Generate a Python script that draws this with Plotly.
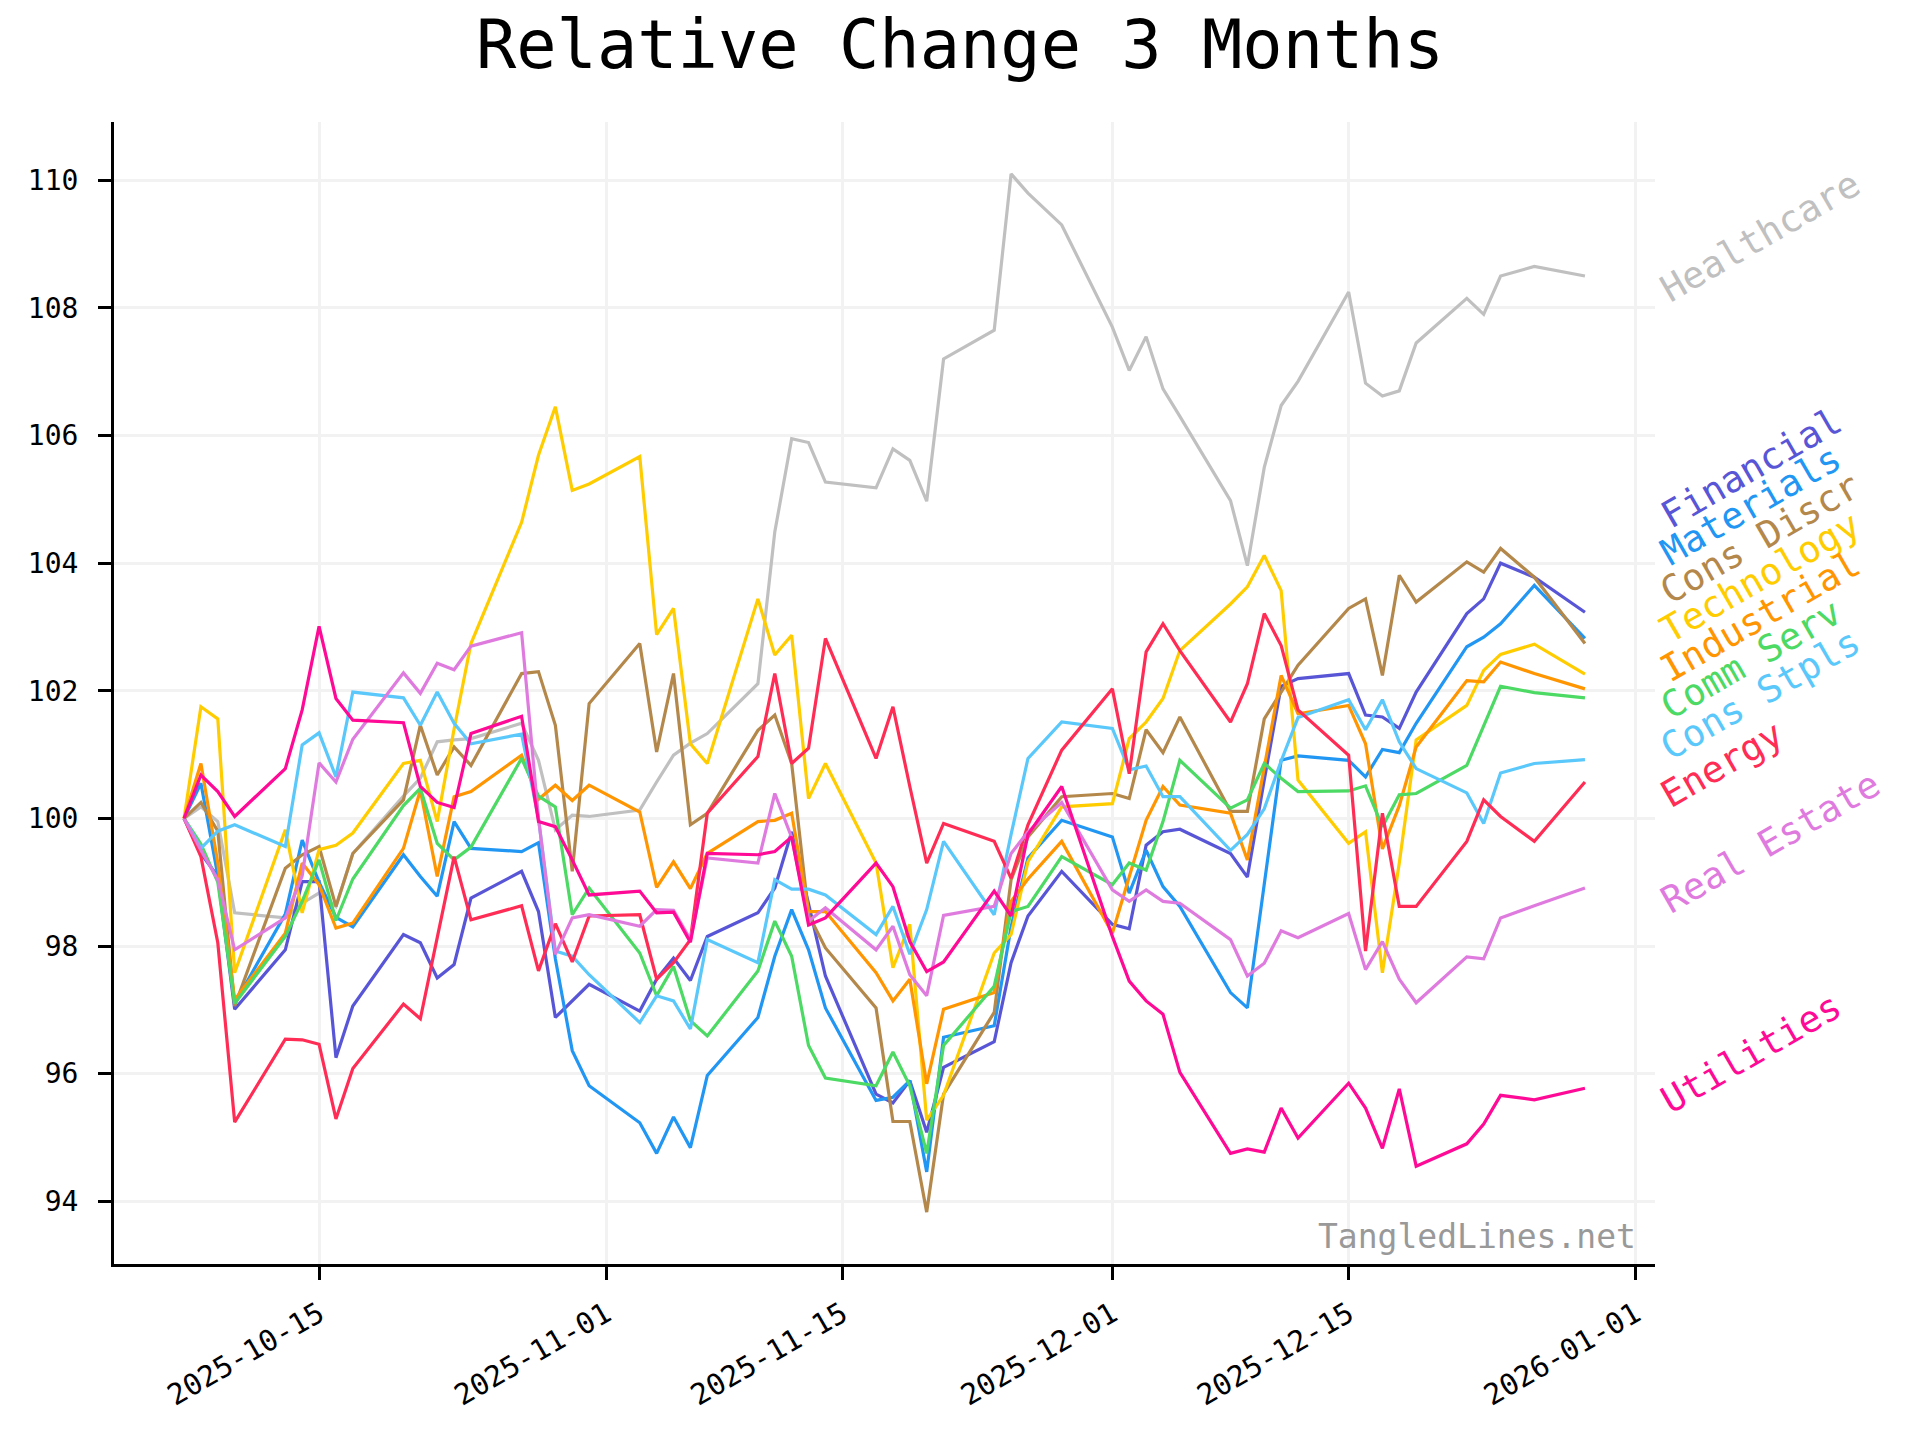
import math
import pandas as pd
import plotly.graph_objects as go

dates = ["2025-10-07","2025-10-08","2025-10-09","2025-10-10","2025-10-13","2025-10-14","2025-10-15",
         "2025-10-16","2025-10-17","2025-10-20","2025-10-21","2025-10-22","2025-10-23","2025-10-24",
         "2025-10-27","2025-10-28","2025-10-29","2025-10-30","2025-10-31",
         "2025-11-03","2025-11-04","2025-11-05","2025-11-06","2025-11-07","2025-11-10","2025-11-11",
         "2025-11-12","2025-11-13","2025-11-14","2025-11-17","2025-11-18","2025-11-19","2025-11-20",
         "2025-11-21","2025-11-24","2025-11-25","2025-11-26","2025-11-28",
         "2025-12-01","2025-12-02","2025-12-03","2025-12-04","2025-12-05","2025-12-08","2025-12-09",
         "2025-12-10","2025-12-11","2025-12-12","2025-12-15","2025-12-16","2025-12-17","2025-12-18",
         "2025-12-19","2025-12-22","2025-12-23","2025-12-24","2025-12-26","2025-12-29"]

financial = [100, 99.45, 99.09, 97.01, 97.94, 99.01, 99.01, 96.25, 97.06, 98.18, 98.05, 97.5, 97.71, 98.75, 99.17, 98.54, 96.88, 97.14, 97.4,
             96.98, 97.48, 97.81, 97.46, 98.15, 98.52, 98.91, 99.79, 98.66, 97.53, 95.68, 95.54, 95.89, 95.08, 96.1, 96.5, 97.74, 98.47, 99.17,
             98.34, 98.27, 99.58, 99.79, 99.83, 99.45, 99.08, 100.6, 102.07, 102.19, 102.27, 101.62, 101.59, 101.41, 101.98, 103.21, 103.44, 104.0, 103.78, 103.23]
materials = [100, 100.55, 99.1, 97.1, 98.5, 99.66, 99.0, 98.45, 98.3, 99.43, 99.09, 98.78, 99.95, 99.53, 99.48, 99.62, 97.8, 96.36, 95.81,
             95.23, 94.75, 95.32, 94.84, 95.97, 96.88, 97.84, 98.57, 97.94, 97.03, 95.58, 95.63, 95.89, 94.46, 96.57, 96.75, 98.3, 99.38, 99.97,
             99.71, 98.83, 99.5, 98.93, 98.62, 97.27, 97.03, 98.95, 100.91, 100.98, 100.91, 100.65, 101.08, 101.03, 101.49, 102.69, 102.84, 103.05, 103.65, 102.82]
cons_discr = [100, 100.25, 99.8, 97.06, 99.22, 99.43, 99.56, 98.62, 99.45, 100.29, 101.46, 100.68, 101.12, 100.83, 102.27, 102.3, 101.46, 99.17, 101.8,
              102.74, 101.04, 102.27, 99.9, 100.08, 101.38, 101.62, 100.86, 98.49, 97.97, 97.03, 95.25, 95.25, 93.83, 95.68, 96.96, 99.04, 99.71, 100.34,
              100.39, 100.31, 101.39, 101.03, 101.59, 100.11, 100.11, 101.56, 101.98, 102.4, 103.29, 103.44, 102.24, 103.81, 103.39, 104.02, 103.86, 104.23, 103.78, 102.74]
technology = [100, 101.75, 101.56, 97.58, 99.82, 98.52, 99.51, 99.58, 99.77, 100.86, 100.91, 99.95, 101.4, 102.74, 104.64, 105.69, 106.45, 105.14, 105.24,
              105.67, 102.88, 103.29, 101.17, 100.86, 103.44, 102.56, 102.87, 100.31, 100.86, 99.3, 97.66, 98.34, 95.27, 95.66, 97.89, 98.18, 99.32, 100.18,
              100.23, 101.25, 101.51, 101.88, 102.63, 103.36, 103.63, 104.12, 103.57, 100.6, 99.61, 99.79, 97.58, 99.3, 101.23, 101.77, 102.32, 102.57, 102.73, 102.26]
industrial = [100, 100.86, 99.3, 97.16, 98.2, 99.3, 98.96, 98.28, 98.36, 99.53, 100.44, 99.09, 100.34, 100.42, 100.99, 100.3, 100.52, 100.28, 100.52,
              100.1, 98.92, 99.32, 98.9, 99.45, 99.95, 99.97, 100.08, 98.54, 98.54, 97.58, 97.14, 97.48, 95.84, 97.01, 97.27, 98.7, 99.05, 99.64,
              98.2, 99.09, 99.97, 100.5, 100.21, 100.08, 99.35, 100.8, 102.24, 101.64, 101.77, 101.17, 99.52, 100.2, 101.12, 102.16, 102.14, 102.45, 102.27, 102.03]
comm_serv = [100, 99.6, 99.0, 97.1, 98.15, 98.7, 99.35, 98.4, 99.05, 100.2, 100.47, 99.61, 99.35, 99.55, 100.94, 100.35, 100.18, 98.49, 98.91,
             97.89, 97.22, 97.68, 96.83, 96.59, 97.61, 98.39, 97.84, 96.44, 95.93, 95.81, 96.34, 95.81, 94.75, 96.44, 97.37, 98.54, 98.62, 99.4,
             98.96, 99.3, 99.19, 99.95, 100.91, 100.16, 100.29, 100.86, 100.63, 100.42, 100.43, 100.51, 99.87, 100.37, 100.39, 100.83, 101.45, 102.07, 101.97, 101.89]
cons_stpls = [100, 99.53, 99.8, 99.9, 99.56, 101.15, 101.34, 100.65, 101.98, 101.89, 101.46, 101.98, 101.49, 101.17, 101.32, 100.0, 97.92, 97.84, 97.55,
              96.8, 97.22, 97.14, 96.7, 98.1, 97.74, 99.04, 98.89, 98.89, 98.8, 98.18, 98.62, 97.87, 98.57, 99.64, 98.49, 99.75, 100.94, 101.51,
              101.41, 100.76, 100.82, 100.34, 100.34, 99.5, 99.75, 100.15, 100.9, 101.58, 101.86, 101.39, 101.86, 101.2, 100.78, 100.4, 99.92, 100.71, 100.86, 100.92]
energy = [100, 99.4, 98.05, 95.24, 96.54, 96.53, 96.46, 95.29, 96.08, 97.09, 96.86, 98.1, 99.4, 98.41, 98.63, 97.61, 98.35, 97.75, 98.47,
          98.49, 97.48, 97.74, 98.1, 100.08, 100.97, 102.27, 100.86, 101.1, 102.82, 100.94, 101.75, 100.5, 99.3, 99.92, 99.64, 99.06, 99.9, 101.07,
          102.03, 100.7, 102.61, 103.05, 102.63, 101.51, 102.11, 103.21, 102.71, 101.7, 100.99, 97.92, 100.08, 98.62, 98.62, 99.64, 100.29, 100.03, 99.64, 100.57]
real_estate = [100, 99.5, 99.04, 97.94, 98.44, 99.1, 100.87, 100.57, 101.24, 102.28, 101.96, 102.43, 102.33, 102.7, 102.91, 100.0, 97.87, 98.44, 98.49,
               98.31, 98.57, 98.56, 98.1, 99.38, 99.3, 100.39, 99.7, 98.39, 98.6, 97.94, 98.31, 97.55, 97.22, 98.48, 98.62, 99.45, 99.79, 100.25,
               98.88, 98.7, 98.88, 98.7, 98.67, 98.1, 97.53, 97.73, 98.24, 98.13, 98.51, 97.63, 98.07, 97.48, 97.11, 97.83, 97.8, 98.44, 98.63, 98.91]
utilities = [100, 100.68, 100.42, 100.03, 100.78, 101.7, 103.01, 101.88, 101.54, 101.5, 100.5, 100.25, 100.17, 101.33, 101.6, 99.95, 99.87, 99.35, 98.8,
             98.86, 98.52, 98.53, 98.06, 99.45, 99.43, 99.48, 99.71, 98.33, 98.44, 99.3, 98.93, 98.07, 97.6, 97.75, 98.86, 98.47, 99.75, 100.5,
             98.15, 97.45, 97.14, 96.93, 96.02, 94.75, 94.82, 94.77, 95.46, 94.99, 95.85, 95.46, 94.83, 95.76, 94.55, 94.9, 95.21, 95.66, 95.59, 95.77]
healthcare = [100, 100.18, 99.95, 98.52, 98.44, 98.67, 98.83, 98.62, 99.45, 100.35, 100.63, 101.2, 101.23, 101.25, 101.49, 100.91, 99.82, 100.05, 100.03,
              100.13, 100.57, 100.99, 101.18, 101.33, 102.11, 104.49, 105.95, 105.89, 105.27, 105.18, 105.79, 105.61, 104.97, 107.2, 107.65, 110.1, 109.8, 109.3,
              107.7, 107.02, 107.55, 106.73, 106.3, 104.98, 103.96, 105.5, 106.47, 106.85, 108.25, 106.82, 106.62, 106.7, 107.45, 108.15, 107.9, 108.5, 108.65, 108.5]

names = ["Financial", "Materials", "Cons Discr", "Technology", "Industrial", "Comm Serv",
         "Cons Stpls", "Energy", "Real Estate", "Utilities", "Healthcare"]
values = [financial, materials, cons_discr, technology, industrial, comm_serv,
          cons_stpls, energy, real_estate, utilities, healthcare]
colors = ["#5856D6", "#2196F3", "#B4884B", "#FFCC00", "#FF9500", "#4CD964",
          "#5AC8FA", "#FF2D55", "#DF7BDF", "#FF0A96", "#C0C0C0"]
# label centres (data units) for the rotated end labels
label_y = [105.49, 104.90, 104.38, 103.77, 103.16, 102.49, 101.94, 100.85, 99.63, 96.32, 109.12]

x_ticks = ["2025-10-15", "2025-11-01", "2025-11-15", "2025-12-01", "2025-12-15", "2026-01-01"]
y_ticks = [94, 96, 98, 100, 102, 104, 106, 108, 110]

FONT = "DejaVu Sans Mono"
W, H = 1920, 1440
L, R, T, B = 114, 1655, 122, 1264

fig = go.Figure()
order = [10, 0, 1, 2, 3, 4, 5, 6, 7, 8, 9]
for i in order:
    fig.add_trace(go.Scatter(x=dates, y=values[i], mode="lines", name=names[i],
                             line=dict(color=colors[i], width=3.2), showlegend=False,
                             hoverinfo="skip"))

start, end = pd.Timestamp(dates[0]), pd.Timestamp(dates[-1])
span = end - start
xr = [(start - span * 0.05).strftime("%Y-%m-%d %H:%M:%S"),
      (end + span * 0.05).strftime("%Y-%m-%d %H:%M:%S")]
allv = [v for s in values for v in s]
vmin, vmax = min(allv), max(allv)
yr = [vmin - 0.05 * (vmax - vmin), vmax + 0.05 * (vmax - vmin)]

annotations = []
LFS = 37
for n, c, ly in zip(names, colors, label_y):
    length = len(n) * 0.602 * LFS
    cx_px = 1664 + (length / 2) * math.cos(math.radians(30))
    annotations.append(dict(text=n, x=(cx_px - L) / (R - L), xref="paper", y=ly, yref="y",
                            xanchor="center", yanchor="middle", textangle=-30, showarrow=False,
                            font=dict(family=FONT, size=LFS, color=c)))
annotations.append(dict(text="TangledLines.net", x=0.989, y=0.0245, xref="paper", yref="paper",
                        xanchor="right", yanchor="middle", showarrow=False,
                        font=dict(family=FONT, size=33, color="#999999")))

fig.update_layout(
    width=W, height=H,
    paper_bgcolor="white", plot_bgcolor="white",
    margin=dict(l=L, r=W - R, t=T, b=H - B, autoexpand=False),
    title=dict(text="Relative Change 3 Months", x=0.5, xanchor="center",
               y=1 - 45 / H, yanchor="middle", yref="container",
               font=dict(family=FONT, size=67, color="black")),
    font=dict(family=FONT, color="black"),
    annotations=annotations,
)
fig.update_xaxes(type="date", range=xr, tickvals=x_ticks, ticktext=x_ticks,
                 tickangle=-30, tickfont=dict(family=FONT, size=29, color="black"),
                 showgrid=True, gridcolor="#F2F2F2", gridwidth=2.5,
                 showline=True, linecolor="black", linewidth=3,
                 ticks="outside", ticklen=13, tickwidth=2.5, tickcolor="black",
                 ticklabelstandoff=6, zeroline=False)
fig.update_yaxes(range=yr, tickvals=y_ticks, tickfont=dict(family=FONT, size=28, color="black"),
                 showgrid=True, gridcolor="#F2F2F2", gridwidth=2.5,
                 showline=True, linecolor="black", linewidth=3,
                 ticks="outside", ticklen=13, tickwidth=2.5, tickcolor="black",
                 ticklabelstandoff=14, zeroline=False)

fig.write_html("out.html", config={"displayModeBar": False},
               post_script="document.body.style.margin='0px';document.body.style.overflow='hidden';")
